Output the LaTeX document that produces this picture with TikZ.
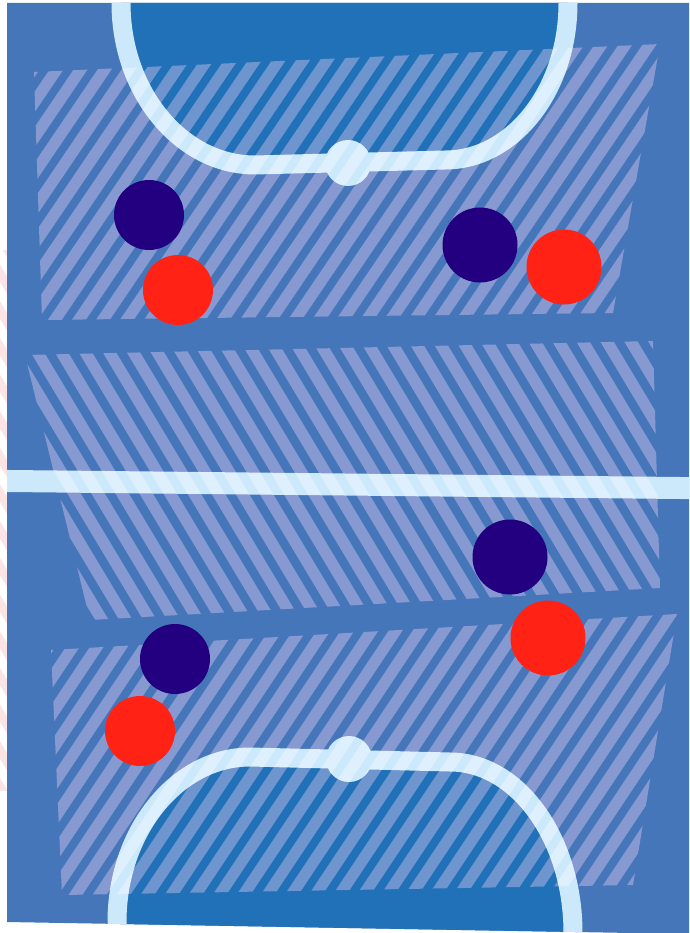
\documentclass[tikz,border=0pt]{standalone}
\definecolor{court}{RGB}{70,118,186}
\definecolor{keyblue}{RGB}{33,113,184}
\definecolor{linec}{RGB}{204,233,251}
\definecolor{hatchc}{RGB}{89,64,82}
\definecolor{teamA}{RGB}{34,0,128}
\definecolor{teamB}{RGB}{255,34,21}
\definecolor{pinkc}{RGB}{253,228,228}
\tikzset{
  courtline/.style={linec, line width=19pt},
  hatchline/.style={hatchc, line width=11.5pt},
  pinkline/.style={pinkc, line width=9pt},
  playerA/.style={circle, fill=teamA, inner sep=0pt},
  playerB/.style={circle, fill=teamB, inner sep=0pt}
}
\begin{document}
\begin{tikzpicture}[x=1pt,y=-1pt]
\useasboundingbox (0,0) rectangle (689,933);
% pink stripes outside left edge
\begin{scope}
  \clip (0,250) rectangle (7,790);
  \foreach \k in {-25,...,2} {
    \draw[pinkline] ({\k*22},200) -- ++(360,600);
  }
\end{scope}
% court
\fill[court] (7,3) -- (689,3) -- (689,934) -- (7,922) -- cycle;
\begin{scope}
  \clip (7,3) -- (689,3) -- (689,934) -- (7,922) -- cycle;
  % top key
  \fill[keyblue] (121,-5) -- (121,3) .. controls (121,92) and (181,165) .. (255,165)
     -- (445,160) .. controls (513,160) and (568,90) .. (568,3) -- (568,-5) -- cycle;
  \draw[courtline] (121,-5) -- (121,3) .. controls (121,92) and (181,165) .. (255,165)
     -- (445,160) .. controls (513,160) and (568,90) .. (568,3) -- (568,-5);
  % bottom key
  \fill[keyblue] (117,945) -- (117,922) .. controls (117,831) and (177,757) .. (250,757)
     -- (450,762) .. controls (518,762) and (573,839) .. (573,933) -- (573,945) -- cycle;
  \draw[courtline] (117,945) -- (117,922) .. controls (117,831) and (177,757) .. (250,757)
     -- (450,762) .. controls (518,762) and (573,839) .. (573,933) -- (573,945);
  % centre line
  \coordinate (cl1) at (-10,480.8);
  \coordinate (cl2) at (700,488.2);
  \draw[linec, line width=22pt] (cl1) -- (cl2);
  % small circles
  \fill[linec] (348,163) circle (23);
  \fill[linec] (349,759) circle (23);
  % hatched zones
  \begin{scope}[blend mode=screen]
    \begin{scope}
      \clip (34,72) -- (660,44) -- (613,313) -- (42,320) -- cycle;
      \foreach \k in {-10,...,28} {
        \draw[hatchline] ({\k*24},330) -- ++(200,-295);
      }
    \end{scope}
    \begin{scope}
      \clip (25,355) -- (653,341) -- (660,588) -- (90,620) -- cycle;
      \foreach \k in {-9,...,29} {
        \draw[hatchline] ({\k*24},330) -- ++(180,300);
      }
    \end{scope}
    \begin{scope}
      \clip (51,650) -- (677,614) -- (633,885) -- (62,895) -- cycle;
      \foreach \k in {-10,...,29} {
        \draw[hatchline] ({\k*24},900) -- ++(200,-300);
      }
    \end{scope}
  \end{scope}
\end{scope}
% players
\node[playerA, minimum size=70pt] (a1) at (149,215) {};
\node[playerB, minimum size=70pt] (b1) at (178,290) {};
\node[playerA, minimum size=75pt] (a2) at (480,245) {};
\node[playerB, minimum size=75pt] (b2) at (564,267) {};
\node[playerA, minimum size=75pt] (a3) at (510,557) {};
\node[playerB, minimum size=75pt] (b3) at (548,638) {};
\node[playerA, minimum size=70pt] (a4) at (175,659) {};
\node[playerB, minimum size=70pt] (b4) at (140,731) {};
\end{tikzpicture}
\end{document}
